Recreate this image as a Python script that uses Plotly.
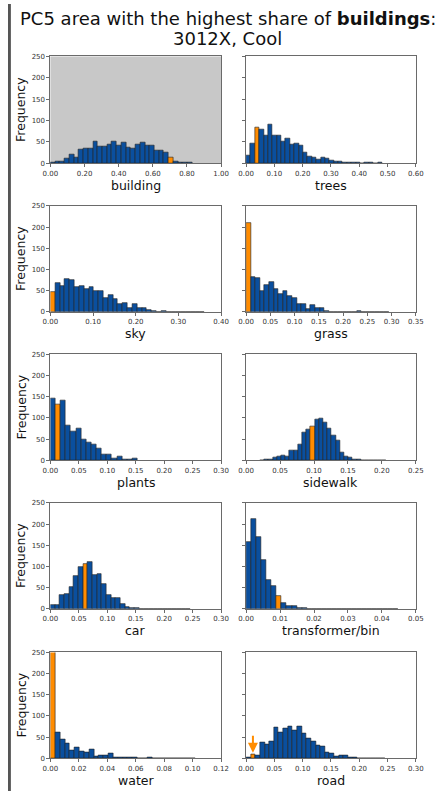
import plotly.graph_objects as go

W, H = 446, 795

# ---- data (histogram counts) ----
labels = ["building", "trees", "sky", "grass", "plants",
          "sidewalk", "car", "transformer/bin", "water", "road"]

building_counts = [3, 5, 5, 12, 22, 15, 32, 35, 36, 52, 40, 40, 45, 51, 41, 50, 37, 34,
                   45, 49, 41, 43, 30, 31, 25, 15, 4, 1, 1, 1]
trees_counts = [18, 47, 84, 80, 66, 90, 66, 65, 51, 59, 44, 47, 41, 25, 17, 14, 9, 15, 12,
                7, 5, 4, 2, 1, 1, 1, 0, 1, 1, 0, 1]
sky_counts = [47, 69, 61, 77, 76, 59, 61, 54, 59, 50, 50, 33, 41, 31, 19, 20, 9, 18, 9, 9,
              5, 3, 1, 3, 0, 0, 0, 0, 0, 0, 0, 1]
grass_counts = [210, 83, 81, 50, 64, 71, 55, 42, 49, 38, 34, 19, 18, 8, 16, 9, 9, 3, 1, 0,
                1, 1, 1, 1, 2, 0, 0, 0, 0, 0, 1]
plants_counts = [145, 132, 142, 82, 68, 76, 49, 42, 38, 29, 14, 14, 5, 10, 2, 2, 4]
sidewalk_counts = [1, 2, 3, 6, 10, 12, 9, 23, 24, 37, 67, 73, 81, 97, 100, 90, 76, 58, 47,
                   19, 9, 7, 2, 2, 0, 0, 0, 1, 0, 1]
car_counts = [10, 9, 33, 36, 51, 78, 100, 107, 111, 80, 82, 59, 33, 26, 26, 11, 4, 2, 2, 1,
              0, 0, 0, 0, 0, 0, 0, 0, 0, 1]
transformer_counts = [158, 213, 170, 115, 69, 55, 30, 13, 8, 6, 3, 2, 1, 1, 1, 1, 1, 0, 0,
                      0, 0, 0, 0, 0, 0, 0, 0, 0, 0, 1]
water_counts = [600, 62, 44, 36, 19, 25, 17, 13, 20, 4, 8, 6, 11, 2, 3, 3, 2, 2, 1, 0, 2,
                0, 0, 1, 1, 0, 0, 0, 1, 0]
road_counts = [2, 9, 8, 37, 34, 41, 73, 61, 71, 76, 67, 75, 60, 47, 40, 30, 27, 14, 12, 5,
               6, 8, 2, 3, 0, 1, 0, 0, 1, 0]

counts = [building_counts, trees_counts, sky_counts, grass_counts, plants_counts,
          sidewalk_counts, car_counts, transformer_counts, water_counts, road_counts]
bin_starts = [0.0, 0.0, 0.0, 0.0, 0.0, 0.0205, 0.0, 0.0, 0.0, 0.0]
bin_widths = [0.0277, 0.0155, 0.0113, 0.0095, 0.009, 0.0062, 0.0082, 0.00149, 0.0034, 0.0082]
highlight_bins = [25, 2, 0, 0, 1, 12, 7, 6, 0, 1]
x_max = [1.0, 0.6, 0.4, 0.35, 0.3, 0.25, 0.3, 0.05, 0.12, 0.3]
x_dtick = [0.2, 0.1, 0.1, 0.05, 0.05, 0.05, 0.05, 0.01, 0.02, 0.05]
y_max = 250
y_dtick = 50

title_line1 = "PC5 area with the highest share of <b>buildings</b>:"
title_line2 = "3012X, Cool"
y_label = "Frequency"
arrow_value = 0.012   # road value of the selected area

# ---- styles ----
FONT = "DejaVu Sans"
BLUE = "#0a4f9e"
ORANGE = "#ff8c00"
EDGE = "#1e1e1e"
FRAME = "#6a6a6a"

col_px = [(44, 221), (247, 423)]
row_px = [(53, 161), (204, 311), (354, 461), (504, 611), (655, 762)]

fig = go.Figure()
layout = dict(
    width=W, height=H, margin=dict(l=0, r=0, t=0, b=0),
    paper_bgcolor="white", plot_bgcolor="white", showlegend=False,
    font=dict(family=FONT, color="#222"), bargap=0,
)
annotations = []

for i, lab in enumerate(labels):
    r, c = divmod(i, 2)
    n = i + 1
    xa = "xaxis" if n == 1 else f"xaxis{n}"
    ya = "yaxis" if n == 1 else f"yaxis{n}"
    xr = "x" if n == 1 else f"x{n}"
    yr = "y" if n == 1 else f"y{n}"
    cnt = counts[i]
    w = bin_widths[i]
    xs = [bin_starts[i] + (k + 0.5) * w for k in range(len(cnt))]
    cols = [ORANGE if k == highlight_bins[i] else BLUE for k in range(len(cnt))]
    fig.add_trace(go.Bar(x=xs, y=cnt, width=[w] * len(cnt), marker=dict(
        color=cols, line=dict(color=EDGE, width=0.6)), xaxis=xr, yaxis=yr,
        hoverinfo="skip"))
    x0, x1 = col_px[c]
    y0, y1 = row_px[r]
    layout[xa] = dict(
        domain=[x0 / W, x1 / W], anchor=yr, range=[0, x_max[i]], dtick=x_dtick[i],
        tick0=0, tickformat=".2f", ticks="outside", ticklen=3, tickcolor=FRAME,
        tickfont=dict(size=7, color="#333"), showgrid=False, zeroline=False,
        showline=True, mirror=True, linecolor=FRAME, linewidth=1,
    )
    layout[ya] = dict(
        domain=[1 - y1 / H, 1 - y0 / H], anchor=xr, range=[0, y_max], dtick=y_dtick,
        ticks="outside", ticklen=3, tickcolor=FRAME,
        tickfont=dict(size=7, color="#333"), showgrid=False, zeroline=False,
        showline=True, mirror=True, linecolor=FRAME, linewidth=1,
        showticklabels=(c == 0),
    )
    # axis titles
    annotations.append(dict(
        text=lab, xref="paper", yref="paper", x=(x0 + x1) / 2 / W, y=1 - (y1 + 22) / H,
        xanchor="center", yanchor="middle", showarrow=False,
        font=dict(size=12.5, color="#111", family=FONT)))
    if c == 0:
        annotations.append(dict(
            text=y_label, xref="paper", yref="paper", x=13.5 / W,
            y=1 - (y0 + y1) / 2 / H, xanchor="center", yanchor="middle",
            textangle=-90, showarrow=False,
            font=dict(size=12.5, color="#111", family=FONT)))

shapes = [
    dict(type="rect", xref="x domain", yref="y domain", x0=0, x1=1, y0=0, y1=1,
         fillcolor="#c8c8c8", line=dict(width=0), layer="below"),
    dict(type="rect", xref="paper", yref="paper", x0=0, x1=3 / W, y0=0, y1=1,
         fillcolor="#555555", line=dict(width=0)),
]
layout["shapes"] = shapes

annotations += [
    dict(text=title_line1, xref="paper", yref="paper", x=228 / W, y=1 - 15 / H,
         xanchor="center", yanchor="middle", showarrow=False,
         font=dict(size=18, color="#111", family=FONT)),
    dict(text=title_line2, xref="paper", yref="paper", x=228 / W, y=1 - 35 / H,
         xanchor="center", yanchor="middle", showarrow=False,
         font=dict(size=18, color="#111", family=FONT)),
    dict(x=arrow_value, y=road_counts[highlight_bins[9]] + 4, xref="x10", yref="y10",
         ax=arrow_value, ay=road_counts[highlight_bins[9]] + 48, axref="x10", ayref="y10",
         showarrow=True, arrowhead=2, arrowsize=1, arrowwidth=2, arrowcolor=ORANGE,
         text=""),
]
layout["annotations"] = annotations

fig.update_layout(**layout)
fig.write_html("out.html")
